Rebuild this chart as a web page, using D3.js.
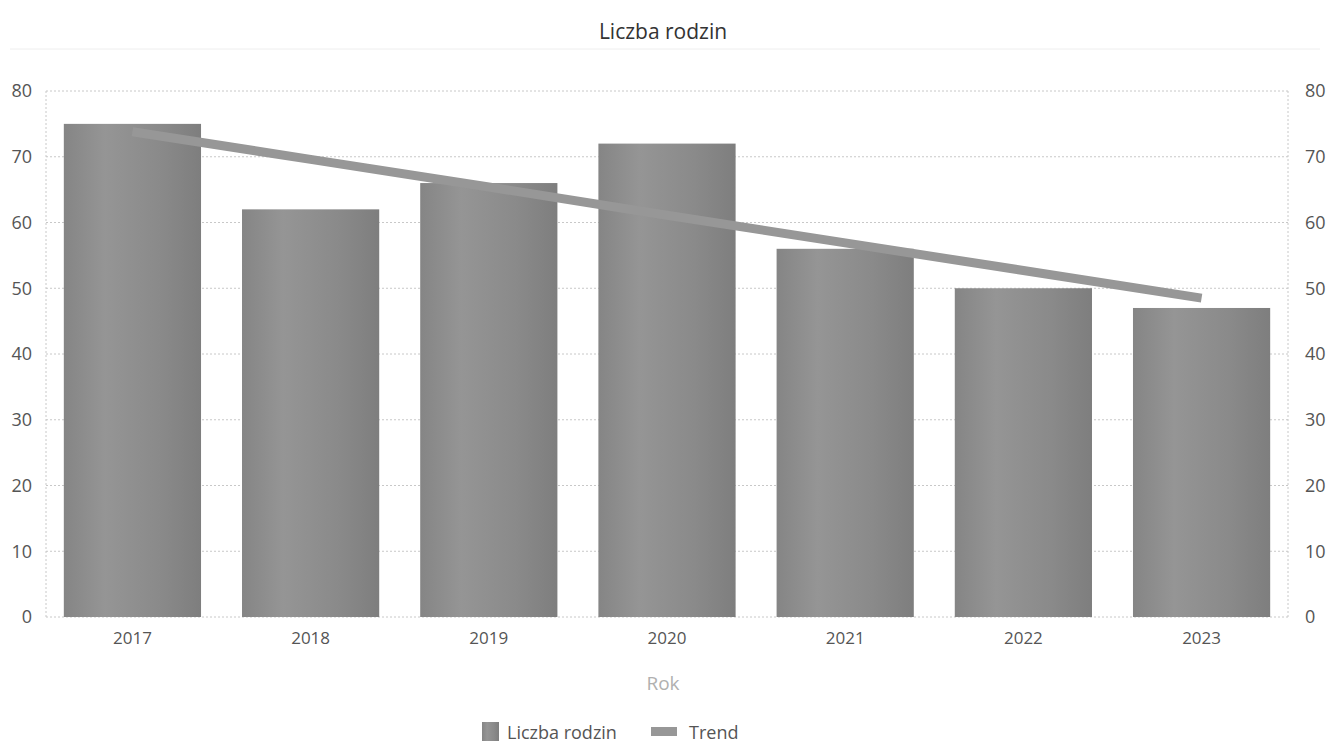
<!DOCTYPE html>
<html><head><meta charset="utf-8">
<script src="https://cdn.jsdelivr.net/npm/d3@7"></script>
<style>body{margin:0;background:#fff;} text{font-family:"Open Sans","Noto Sans",sans-serif;}</style>
</head><body><svg id="c" width="1329" height="744"></svg>
<script>
const years = ["2017","2018","2019","2020","2021","2022","2023"];
const families = [75, 62, 66, 72, 56, 50, 47];
const trend = [73.8, 69.6, 65.4, 61.1, 56.9, 52.7, 48.5];
const yTicks = [0,10,20,30,40,50,60,70,80];

const svg = d3.select("#c");
const m = {l:46, r:1288, t:91, b:617};
const x = d3.scaleBand().domain(years).range([m.l, m.r]).paddingInner(0.23).paddingOuter(0.1);
const y = d3.scaleLinear().domain([0,80]).range([m.b, m.t]);

const defs = svg.append("defs");
const g1 = defs.append("linearGradient").attr("id","bg").attr("x1","0").attr("x2","1").attr("y1","0").attr("y2","0");
g1.append("stop").attr("offset","0").attr("stop-color","#858585");
g1.append("stop").attr("offset","0.3").attr("stop-color","#959595");
g1.append("stop").attr("offset","0.7").attr("stop-color","#8a8a8a");
g1.append("stop").attr("offset","1").attr("stop-color","#7e7e7e");

// title
svg.append("text").attr("x",663).attr("y",39).attr("text-anchor","middle").attr("font-size",21).attr("fill","#333").text("Liczba rodzin");
svg.append("line").attr("x1",10).attr("x2",1320).attr("y1",49).attr("y2",49).attr("stroke","#eee").attr("stroke-width",1);

// grid
svg.append("g").selectAll("line").data(yTicks).join("line")
  .attr("x1",m.l).attr("x2",m.r).attr("y1",d=>y(d)).attr("y2",d=>y(d))
  .attr("stroke","#c8c8c8").attr("stroke-dasharray","2,2");
svg.append("line").attr("x1",m.l).attr("x2",m.l).attr("y1",m.t).attr("y2",m.b).attr("stroke","#c8c8c8").attr("stroke-dasharray","2,2");
svg.append("line").attr("x1",m.r).attr("x2",m.r).attr("y1",m.t).attr("y2",m.b).attr("stroke","#c8c8c8").attr("stroke-dasharray","2,2");

// axes
const la = svg.append("g").attr("transform",`translate(${m.l-11},0)`).call(d3.axisLeft(y).tickValues(yTicks).tickSize(0));
const ra = svg.append("g").attr("transform",`translate(${m.r+14},0)`).call(d3.axisRight(y).tickValues(yTicks).tickSize(0));
const xa = svg.append("g").attr("transform",`translate(0,${m.b+12})`).call(d3.axisBottom(x).tickSize(0));
[la,ra,xa].forEach(a=>{a.select(".domain").remove();a.selectAll("text").attr("font-size",18).attr("fill","#555").attr("font-family","'Open Sans','Noto Sans',sans-serif");});
la.selectAll("text").attr("text-anchor","end");
xa.selectAll("text").attr("font-size",17);

// bars
svg.append("g").selectAll("rect").data(families).join("rect")
  .attr("x",(d,i)=>x(years[i])).attr("width",x.bandwidth())
  .attr("y",d=>y(d)).attr("height",d=>y(0)-y(d)).attr("fill","url(#bg)");

// trend
svg.append("path").datum(trend)
  .attr("d",d3.line().x((d,i)=>x(years[i])+x.bandwidth()/2).y(d=>y(d)))
  .attr("fill","none").attr("stroke","#979797").attr("stroke-width",9);

// axis title
svg.append("text").attr("x",663).attr("y",690).attr("text-anchor","middle").attr("font-size",19).attr("fill","#b0b0b0").text("Rok");

// legend
const lg = svg.append("g");
lg.append("rect").attr("x",482).attr("y",722).attr("width",17).attr("height",19).attr("fill","url(#bg)");
lg.append("text").attr("x",507).attr("y",739).attr("font-size",18).attr("fill","#555").text("Liczba rodzin");
lg.append("rect").attr("x",651).attr("y",727).attr("width",26).attr("height",9).attr("fill","#979797");
lg.append("text").attr("x",689).attr("y",739).attr("font-size",18).attr("fill","#555").text("Trend");
</script></body></html>
